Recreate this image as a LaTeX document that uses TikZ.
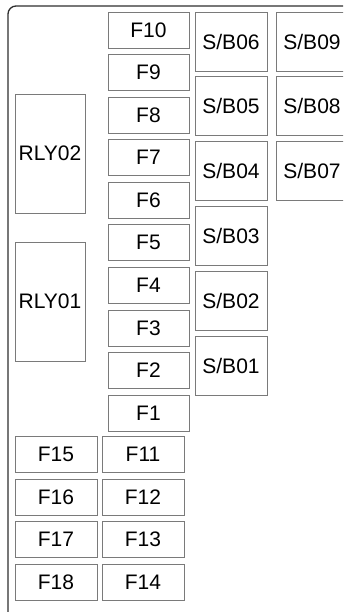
\documentclass[tikz,border=0pt]{standalone}
\usepackage{fontspec}
\setmainfont{Liberation Sans}
\usetikzlibrary{positioning}
\definecolor{BoxGray}{HTML}{7A7A7A}
\definecolor{FrameDark}{HTML}{2E2E2E}

\begin{document}
\begin{tikzpicture}[x=1pt,y=-1pt,font=\fontsize{21}{25}\selectfont,
  every node/.style={align=center,inner sep=0pt,outer sep=0pt},
  fuse/.style={draw=BoxGray,line width=0.8pt,minimum width=81pt,minimum height=36pt},
  sbox/.style={draw=BoxGray,line width=0.8pt,minimum width=72pt,minimum height=59pt},
  relay/.style={draw=BoxGray,line width=0.8pt,minimum width=70pt,minimum height=119pt}]
  \useasboundingbox (0,0) rectangle (343,612);
  \clip (0,0) rectangle (343,612);
  % housing
  \draw[FrameDark,line width=1.3pt,rounded corners=8pt] (8,6) rectangle (372,628);
  % upper fuse column
  \node[fuse] (f10) at (148.5,30) {F10};
  \node[fuse,below=6.56pt of f10] (f9) {F9};
  \node[fuse,below=6.56pt of f9] (f8) {F8};
  \node[fuse,below=6.56pt of f8] (f7) {F7};
  \node[fuse,below=6.56pt of f7] (f6) {F6};
  \node[fuse,below=6.56pt of f6] (f5) {F5};
  \node[fuse,below=6.56pt of f5] (f4) {F4};
  \node[fuse,below=6.56pt of f4] (f3) {F3};
  \node[fuse,below=6.56pt of f3] (f2) {F2};
  \node[fuse,below=6.56pt of f2] (f1) {F1};
  % relays
  \node[relay] (rly02) at (50,153.5) {RLY02};
  \node[relay,below=29pt of rly02] (rly01) {RLY01};
  % lower fuse rows
  \node[fuse,minimum width=82pt] (f15) at (56,454.5) {F15};
  \node[fuse,minimum width=82pt,right=5pt of f15] (f11) {F11};
  \node[fuse,minimum width=82pt,below=6.5pt of f15] (f16) {F16};
  \node[fuse,minimum width=82pt,right=5pt of f16] (f12) {F12};
  \node[fuse,minimum width=82pt,below=6.5pt of f16] (f17) {F17};
  \node[fuse,minimum width=82pt,right=5pt of f17] (f13) {F13};
  \node[fuse,minimum width=82pt,below=6.5pt of f17] (f18) {F18};
  \node[fuse,minimum width=82pt,right=5pt of f18] (f14) {F14};
  % S/B fuses
  \node[sbox] (sb06) at (231,41.5) {S/B06};
  \node[sbox,below=5.8pt of sb06] (sb05) {S/B05};
  \node[sbox,below=5.8pt of sb05] (sb04) {S/B04};
  \node[sbox,below=5.8pt of sb04] (sb03) {S/B03};
  \node[sbox,below=5.8pt of sb03] (sb02) {S/B02};
  \node[sbox,below=5.8pt of sb02] (sb01) {S/B01};
  \node[sbox,right=9pt of sb06] (sb09) {S/B09};
  \node[sbox,right=9pt of sb05] (sb08) {S/B08};
  \node[sbox,right=9pt of sb04] (sb07) {S/B07};
\end{tikzpicture}
\end{document}
